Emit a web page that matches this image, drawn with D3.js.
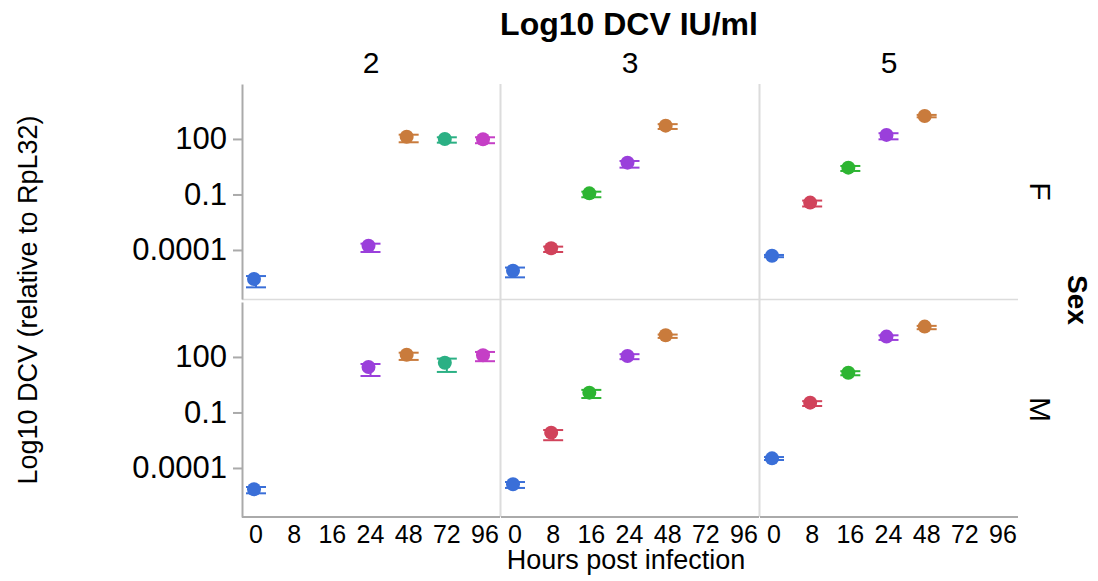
<!DOCTYPE html>
<html><head><meta charset="utf-8">
<script src="https://cdn.jsdelivr.net/npm/d3@7"></script>
<style>
body{margin:0;background:#fff}
text{font-family:"Liberation Sans", Arial, Helvetica, sans-serif; fill:#000}
</style>
</head><body>
<svg id="chart" width="1098" height="581"></svg>
<script>
// ---------- data ----------
const hours = [0, 8, 16, 24, 48, 72, 96];
const hourColors = ["#3a6fd8", "#d1435b", "#2db532", "#9a3fdb", "#c97b3c", "#2bb084", "#c53fc6"];
const doses = ["2", "3", "5"];
const sexes = ["F", "M"];
const yTicks = [1e-4, 0.1, 100];
const yTickLabels = ["0.0001", "0.1", "100"];

// hours sampled in each dose column
const hoursDose2 = [0, 24, 48, 72, 96];
const hoursDose3 = [0, 8, 16, 24, 48];
const hoursDose5 = [0, 8, 16, 24, 48];

// log10 of DCV (relative to RpL32): mean, upper and lower error limits
const meanF2 = [-5.57, -3.77, 2.12, 2.00, 1.98];
const hiF2   = [-5.41, -3.66, 2.23, 2.09, 2.09];
const loF2   = [-6.02, -4.11, 1.82, 1.80, 1.77];
const meanF3 = [-5.12, -3.91, -0.94, 0.72, 2.72];
const hiF3   = [-4.95, -3.82, -0.85, 0.81, 2.80];
const loF3   = [-5.48, -4.11, -1.15, 0.45, 2.54];
const meanF5 = [-4.31, -1.44, 0.45, 2.22, 3.24];
const hiF5   = [-4.27, -1.33, 0.54, 2.31, 3.30];
const loF5   = [-4.39, -1.65, 0.27, 1.98, 3.17];
const meanM2 = [-5.15, 1.46, 2.12, 1.69, 2.09];
const hiM2   = [-5.03, 1.62, 2.23, 1.91, 2.27];
const loM2   = [-5.37, 0.97, 1.84, 1.19, 1.77];
const meanM3 = [-4.88, -2.09, 0.07, 2.05, 3.17];
const hiM3   = [-4.76, -1.95, 0.22, 2.15, 3.21];
const loM3   = [-5.08, -2.50, -0.22, 1.88, 3.03];
const meanM5 = [-3.48, -0.47, 1.15, 3.10, 3.64];
const hiM5   = [-3.41, -0.39, 1.23, 3.17, 3.68];
const loM5   = [-3.57, -0.65, 1.01, 2.92, 3.50];

const panels = [
  {sex:"F", dose:"2", hrs:hoursDose2, mean:meanF2, hi:hiF2, lo:loF2},
  {sex:"F", dose:"3", hrs:hoursDose3, mean:meanF3, hi:hiF3, lo:loF3},
  {sex:"F", dose:"5", hrs:hoursDose5, mean:meanF5, hi:hiF5, lo:loF5},
  {sex:"M", dose:"2", hrs:hoursDose2, mean:meanM2, hi:hiM2, lo:loM2},
  {sex:"M", dose:"3", hrs:hoursDose3, mean:meanM3, hi:hiM3, lo:loM3},
  {sex:"M", dose:"5", hrs:hoursDose5, mean:meanM5, hi:hiM5, lo:loM5}
];

// ---------- layout ----------
const svg = d3.select("#chart");
const cellW = 258, cellH = 215;
const colLeft = d3.scaleOrdinal().domain(doses).range([242, 501, 760]);
const rowTop = d3.scaleOrdinal().domain(sexes).range([84, 302]);
const gridRight = 1018;

const x = d3.scalePoint().domain(hours).range([13.5, 242.5]);
const y = d3.scaleLog().domain([Math.pow(10, -6.65), Math.pow(10, 4.97)]).range([cellH, 0]);
const color = d3.scaleOrdinal().domain(hours).range(hourColors);
const axisGrey = "#aaa", sepGrey = "#dcdcdc";
const FONT = "Liberation Sans, Arial, sans-serif";

// separators
const lines = svg.append("g");
doses.slice(1).forEach(d => {
  lines.append("line")
    .attr("x1", colLeft(d) - 0.5).attr("x2", colLeft(d) - 0.5)
    .attr("y1", rowTop("F")).attr("y2", rowTop("M") + cellH)
    .attr("stroke", sepGrey).attr("stroke-width", 2);
});
lines.append("line")
  .attr("x1", colLeft("2")).attr("x2", gridRight)
  .attr("y1", rowTop("F") + cellH + 0.5).attr("y2", rowTop("F") + cellH + 0.5)
  .attr("stroke", sepGrey).attr("stroke-width", 1.5);

// axes
sexes.forEach(s => {
  const g = svg.append("g").attr("transform", `translate(${colLeft("2")},${rowTop(s)})`);
  g.call(d3.axisLeft(y).tickValues(yTicks).tickFormat((d, i) => yTickLabels[i])
      .tickSize(9).tickSizeOuter(0).tickPadding(6));
  g.select(".domain").attr("stroke", axisGrey).attr("stroke-width", 2);
  g.selectAll(".tick line").attr("stroke", axisGrey).attr("stroke-width", 2);
  g.selectAll(".tick text").attr("font-size", 31).style("font-family", FONT);
});
doses.forEach(d => {
  const g = svg.append("g").attr("transform", `translate(${colLeft(d)},${rowTop("M") + cellH})`);
  g.call(d3.axisBottom(x).tickSize(0).tickPadding(8));
  g.select(".domain").remove();
  g.append("line").attr("x1", 0).attr("x2", cellW).attr("y1", 0).attr("y2", 0)
    .attr("stroke", axisGrey).attr("stroke-width", 2);
  g.selectAll(".tick text").attr("font-size", 25).style("font-family", FONT);
});

// marks
panels.forEach(p => {
  const g = svg.append("g").attr("transform", `translate(${colLeft(p.dose)},${rowTop(p.sex)})`);
  const rows = p.hrs.map((h, i) => ({h, m: p.mean[i], hi: p.hi[i], lo: p.lo[i]}));
  const eb = g.selectAll("g.eb").data(rows).join("g").attr("class", "eb")
    .attr("stroke", d => color(d.h)).attr("stroke-width", 2);
  eb.append("line")
    .attr("x1", d => x(d.h) + 0.5).attr("x2", d => x(d.h) + 0.5)
    .attr("y1", d => y(Math.pow(10, d.hi))).attr("y2", d => y(Math.pow(10, d.lo)));
  eb.append("line")
    .attr("x1", d => x(d.h) - 9.5).attr("x2", d => x(d.h) + 10.5)
    .attr("y1", d => y(Math.pow(10, d.hi))).attr("y2", d => y(Math.pow(10, d.hi)));
  eb.append("line")
    .attr("x1", d => x(d.h) - 9.5).attr("x2", d => x(d.h) + 10.5)
    .attr("y1", d => y(Math.pow(10, d.lo))).attr("y2", d => y(Math.pow(10, d.lo)));
  g.selectAll("circle").data(rows).join("circle")
    .attr("cx", d => x(d.h) - 1.5).attr("cy", d => y(Math.pow(10, d.m)))
    .attr("r", 7).attr("fill", d => color(d.h));
});

// headers and titles
svg.append("text").attr("x", 629).attr("y", 35).attr("text-anchor", "middle")
  .attr("font-size", 32).attr("font-weight", "bold").text("Log10 DCV IU/ml");
doses.forEach(d => {
  svg.append("text").attr("x", colLeft(d) + cellW / 2).attr("y", 73).attr("text-anchor", "middle")
    .attr("font-size", 30).text(d);
});
sexes.forEach(s => {
  svg.append("text").attr("transform", `translate(1040,${rowTop(s) + cellH / 2}) rotate(90)`)
    .attr("text-anchor", "middle").attr("dominant-baseline", "central")
    .attr("font-size", 30).text(s);
});
svg.append("text").attr("transform", "translate(1077,300) rotate(90)")
  .attr("text-anchor", "middle").attr("dominant-baseline", "central")
  .attr("font-size", 28).attr("font-weight", "bold").text("Sex");
svg.append("text").attr("transform", "translate(28,300) rotate(-90)")
  .attr("text-anchor", "middle").attr("dominant-baseline", "central")
  .attr("font-size", 27).text("Log10 DCV (relative to RpL32)");
svg.append("text").attr("x", 626).attr("y", 569).attr("text-anchor", "middle")
  .attr("font-size", 27).text("Hours post infection");
</script>
</body></html>
